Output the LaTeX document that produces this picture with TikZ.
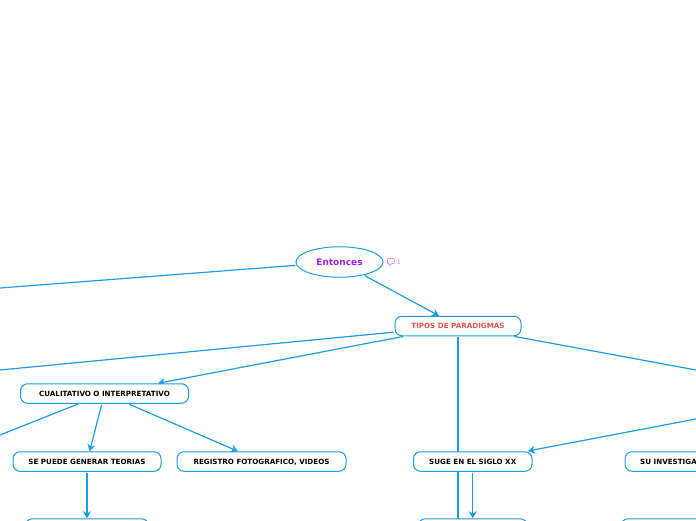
\documentclass[tikz,border=0pt]{standalone}
\usepackage{fontspec}
\setmainfont{DejaVu Sans}
\usepackage{xcolor}
\usetikzlibrary{arrows.meta,positioning,backgrounds,shapes.geometric}
\definecolor{mapblue}{HTML}{1E9BE2}
\definecolor{mappurple}{HTML}{A21CF0}
\definecolor{mapred}{HTML}{E2574C}
\definecolor{maplilac}{HTML}{CF9BF5}
\tikzset{
  blk/.style   ={draw=mapblue,fill=white,rounded corners=7pt,line width=1pt,outer sep=0.5pt,
                 minimum height=19.5pt,inner sep=0pt,text height=5.3pt,text depth=0pt,
                 font=\fontsize{7.15}{8}\selectfont\bfseries},
  rootnd/.style={draw=mapblue,fill=white,ellipse,line width=1pt,outer sep=0.5pt,minimum width=87pt,
                 minimum height=30.5pt,inner sep=0pt,text=mappurple,font=\fontsize{9}{11}\selectfont\bfseries},
  link/.style  ={draw=mapblue,line width=1.2pt,shorten <=1pt},
  flow/.style  ={link,-{Stealth[length=7pt,width=8pt]}},
}
\begin{document}
\begin{tikzpicture}[x=1pt,y=1pt]
  \useasboundingbox (0,0) rectangle (696,-520);
  \node[rootnd] (ent) at (339.5,-262) {Entonces};
  \node[blk,minimum width=126pt,text=mapred,below=38pt of ent,xshift=118.5pt] (tipos) {TIPOS DE PARADIGMAS};
  \node[blk,minimum width=168pt,below=47pt of tipos,xshift=-353.5pt] (cuali) {CUALITATIVO O INTERPRETATIVO};
  \node[blk,minimum width=148pt,below=47.5pt of cuali,xshift=-17.5pt] (teorias) {SE PUEDE GENERAR TEORIAS};
  \node[blk,minimum width=169pt,below=47.5pt of cuali,xshift=157pt] (registro) {REGISTRO FOTOGRAFICO, VIDEOS};
  \node[blk,minimum width=118.5pt,below=115pt of tipos,xshift=14.75pt] (suge) {SUGE EN EL SIGLO XX};
  \node[blk,minimum width=87pt,right=92pt of suge] (invest) {SU INVESTIGA};
  % cajas cortadas por el borde inferior
  \node[blk,minimum width=123pt,below=46.5pt of teorias] (teoriasb) {};
  \node[blk,minimum width=109pt,below=46.5pt of suge] (sugeb) {};
  \node[blk,minimum width=95pt,below=46.5pt of invest] (investb) {};
  % nota junto a la raiz
  \node[right=13pt of ent,text=maplilac,font=\fontsize{7}{8}\selectfont,inner sep=0pt] (nota) {1};
  \draw[maplilac,line width=0.9pt,rounded corners=1pt] (387.5,-258.5) -- (394.5,-258.5) -- (394.5,-263.5)
        -- (391.5,-263.5) -- (389,-266) -- (389,-263.5) -- (387.5,-263.5) -- cycle;
  % extremos libres
  \coordinate (outa) at (0,-288);
  \coordinate (outb) at (0,-370);
  \coordinate (outc) at (696,-370);
  \coordinate (outd) at (696,-419);
  \coordinate (oute) at (0,-435);
  \coordinate (outf) at ([yshift=-186pt]tipos.south);
  \begin{scope}[on background layer]
    \draw[link] (ent) -- (outa);
    \draw[flow] (ent) -- (tipos);
    \draw[link] (tipos) -- (outb);
    \draw[flow] (tipos) -- (cuali);
    \draw[link] (tipos.south) -- (outf);
    \draw[link] (tipos) -- (outc);
    \draw[flow,shorten <=0pt,shorten >=1.5pt] (outd) -- (suge);
    \draw[link] (cuali) -- (oute);
    \draw[flow] (cuali) -- (teorias);
    \draw[flow] (cuali) -- (registro);
    \draw[flow] (teorias) -- (teoriasb);
    \draw[flow] (suge) -- (sugeb);
  \end{scope}
\end{tikzpicture}
\end{document}
